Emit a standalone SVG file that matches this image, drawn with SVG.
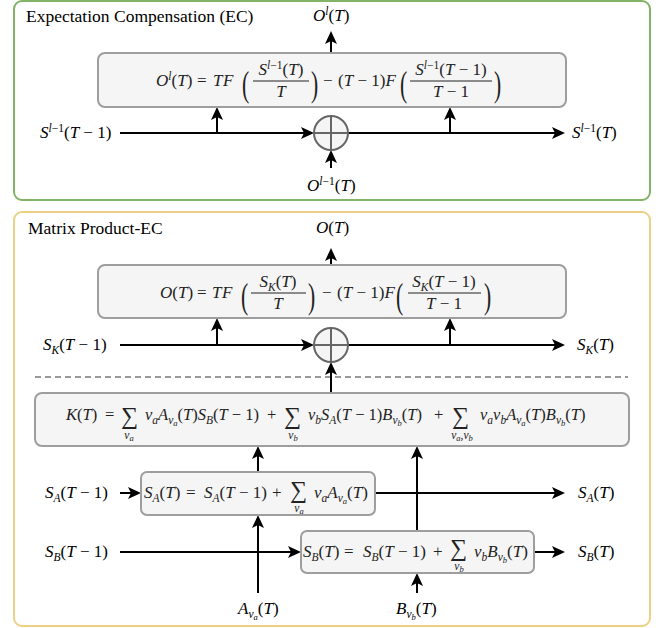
<svg xmlns="http://www.w3.org/2000/svg" width="670" height="628" viewBox="0 0 670 628">
<style>
.t{font-family:"Liberation Serif","Times New Roman",serif;font-size:17px;fill:#000}
.k{font-size:16.5px}
.bx{fill:#222}
.i{font-style:italic}
.s{font-size:11.5px}
.ss{font-size:8.5px}
.sum{font-size:24px}
.par{font-size:36px}
.box{fill:#f5f5f5;stroke:#9e9e9e;stroke-width:2}
.bar{stroke:#222;stroke-width:1}
.c{fill:none;stroke:#000;stroke-width:2;marker-end:url(#ah)}
.title{font-family:"Liberation Serif","Times New Roman",serif;font-size:17.5px;fill:#000}
</style>
<defs>
<marker id="ah" viewBox="0 0 13 12" refX="3" refY="6" markerWidth="13" markerHeight="12" markerUnits="userSpaceOnUse" orient="auto"><path d="M0,0 L13,6 L0,12 L3,6 Z" fill="#000"/></marker>
</defs>
<rect width="670" height="628" fill="#fff"/>

<g id="panel-ec">
<rect x="14" y="1" width="636" height="199" rx="8" fill="none" stroke="#82b366" stroke-width="2"/>
<text class="title" x="26" y="22">Expectation Compensation (EC)</text>
</g>
<g id="panel-mpec">
<rect x="14" y="212" width="636" height="414" rx="8" fill="none" stroke="#ecd184" stroke-width="2"/>
<text class="title" x="28" y="234">Matrix Product-EC</text>
<line x1="35" y1="377" x2="628" y2="377" stroke="#999" stroke-width="2" stroke-dasharray="6 4"/>
</g>

<g id="connectors">
<path class="c" d="M120,133 H304"/>
<path class="c" d="M348,133 H555"/>
<path class="c" d="M217,133 V117"/>
<path class="c" d="M450,133 V117"/>
<path class="c" d="M331,168 V160"/>
<path class="c" d="M331,53 V41"/>
<path class="c" d="M120,345 H304"/>
<path class="c" d="M348,345 H555"/>
<path class="c" d="M217,345 V328"/>
<path class="c" d="M450,345 V328"/>
<path class="c" d="M331,393 V372"/>
<path class="c" d="M331,265 V258"/>
<path class="c" d="M120,493 H131"/>
<path class="c" d="M375,493 H555"/>
<path class="c" d="M120,552 H291"/>
<path class="c" d="M534,552 H555"/>
<path class="c" d="M258,593 V525"/>
<path class="c" d="M258,472 V456"/>
<path class="c" d="M417,593 V583"/>
<path class="c" d="M417,531 V456"/>
</g>

<g id="ec-formula">
<rect class="box" x="98" y="53" width="468" height="54" rx="7"/>
<text class="t bx" x="156" y="86"><tspan class="i">O</tspan><tspan class="s i" dy="-6">l</tspan><tspan dy="6">(</tspan><tspan class="i">T</tspan>)</text>
<text class="t bx" x="197" y="86">=</text>
<text class="t bx i" y="86"><tspan x="213">T</tspan><tspan x="223">F</tspan></text>
<text class="t bx par" transform="translate(242,96) scale(0.6,1)">(</text>
<text class="t bx" x="281" y="75" text-anchor="middle"><tspan class="i">S</tspan><tspan class="s" dy="-6"><tspan class="i">l</tspan>−1</tspan><tspan dy="6">(</tspan><tspan class="i">T</tspan>)</text>
<line class="bar" x1="253" y1="81" x2="309" y2="81"/>
<text class="t bx i" x="281" y="97" text-anchor="middle">T</text>
<text class="t bx par" transform="translate(311,96) scale(0.6,1)">)</text>
<text class="t bx" x="323" y="86">−</text>
<text class="t bx" x="338" y="86">(<tspan class="i">T</tspan> − 1)<tspan class="i">F</tspan></text>
<text class="t bx par" transform="translate(400,96) scale(0.6,1)">(</text>
<text class="t bx" x="451" y="75" text-anchor="middle"><tspan class="i">S</tspan><tspan class="s" dy="-6"><tspan class="i">l</tspan>−1</tspan><tspan dy="6">(</tspan><tspan class="i">T</tspan> − 1)</text>
<line class="bar" x1="410" y1="81" x2="492" y2="81"/>
<text class="t bx" x="451" y="97" text-anchor="middle"><tspan class="i">T</tspan> − 1</text>
<text class="t bx par" transform="translate(494,96) scale(0.6,1)">)</text>
</g>

<g id="ec-adder">
<circle cx="331" cy="133" r="17" fill="#f5f5f5" stroke="#666" stroke-width="2"/>
<path d="M314,133 H348 M331,116 V150" stroke="#666" stroke-width="2"/>
</g>

<g id="ec-in-s">
<text class="t" x="40" y="138"><tspan class="i">S</tspan><tspan class="s" dy="-6"><tspan class="i">l</tspan>−1</tspan><tspan dy="6">(</tspan><tspan class="i">T</tspan> − 1)</text>
</g>
<g id="ec-out-s">
<text class="t" x="572" y="138"><tspan class="i">S</tspan><tspan class="s" dy="-6"><tspan class="i">l</tspan>−1</tspan><tspan dy="6">(</tspan><tspan class="i">T</tspan>)</text>
</g>
<g id="ec-out-o">
<text class="t" x="313" y="21"><tspan class="i">O</tspan><tspan class="s i" dy="-6">l</tspan><tspan dy="6">(</tspan><tspan class="i">T</tspan>)</text>
</g>
<g id="ec-in-o">
<text class="t" x="307" y="191"><tspan class="i">O</tspan><tspan class="s" dy="-6"><tspan class="i">l</tspan>−1</tspan><tspan dy="6">(</tspan><tspan class="i">T</tspan>)</text>
</g>

<g id="mp-formula">
<rect class="box" x="98" y="265" width="468" height="53" rx="7"/>
<text class="t bx" x="160" y="298"><tspan class="i">O</tspan>(<tspan class="i">T</tspan>)</text>
<text class="t bx" x="197" y="298">=</text>
<text class="t bx i" y="298"><tspan x="212">T</tspan><tspan x="222">F</tspan></text>
<text class="t bx par" transform="translate(241,308) scale(0.6,1)">(</text>
<text class="t bx" x="278" y="287" text-anchor="middle"><tspan class="i">S</tspan><tspan class="s i" dy="4">K</tspan><tspan dy="-4">(</tspan><tspan class="i">T</tspan>)</text>
<line class="bar" x1="251" y1="293" x2="306" y2="293"/>
<text class="t bx i" x="278" y="309" text-anchor="middle">T</text>
<text class="t bx par" transform="translate(308,308) scale(0.6,1)">)</text>
<text class="t bx" x="322" y="298">−</text>
<text class="t bx" x="337" y="298">(<tspan class="i">T</tspan> − 1)<tspan class="i">F</tspan></text>
<text class="t bx par" transform="translate(396,308) scale(0.6,1)">(</text>
<text class="t bx" x="444" y="287" text-anchor="middle"><tspan class="i">S</tspan><tspan class="s i" dy="4">K</tspan><tspan dy="-4">(</tspan><tspan class="i">T</tspan> − 1)</text>
<line class="bar" x1="408" y1="293" x2="481" y2="293"/>
<text class="t bx" x="444" y="309" text-anchor="middle"><tspan class="i">T</tspan> − 1</text>
<text class="t bx par" transform="translate(484,308) scale(0.6,1)">)</text>
</g>

<g id="mp-adder">
<circle cx="331" cy="345" r="17" fill="#f5f5f5" stroke="#666" stroke-width="2"/>
<path d="M314,345 H348 M331,328 V362" stroke="#666" stroke-width="2"/>
</g>

<g id="mp-in-sk">
<text class="t" x="43" y="350"><tspan class="i">S</tspan><tspan class="s i" dy="4">K</tspan><tspan dy="-4">(</tspan><tspan class="i">T</tspan> − 1)</text>
</g>
<g id="mp-out-sk">
<text class="t" x="577" y="350"><tspan class="i">S</tspan><tspan class="s i" dy="4">K</tspan><tspan dy="-4">(</tspan><tspan class="i">T</tspan>)</text>
</g>
<g id="mp-out-o">
<text class="t" x="316" y="233"><tspan class="i">O</tspan>(<tspan class="i">T</tspan>)</text>
</g>

<g id="k-formula">
<rect class="box" x="35" y="393" width="594" height="53" rx="7"/>
<text class="t k bx" x="66" y="420"><tspan class="i">K</tspan>(<tspan class="i">T</tspan>)</text>
<text class="t k bx" x="105" y="420">=</text>
<text class="t bx sum" x="121" y="424">∑</text>
<text class="t bx" x="129" y="439" text-anchor="middle"><tspan class="s i">v</tspan><tspan class="ss i" dy="2">a</tspan></text>
<text class="t k bx" x="145" y="420"><tspan class="i">v</tspan><tspan class="s i" dy="4">a</tspan><tspan class="i" dy="-4">A</tspan><tspan class="s i" dy="4">v</tspan><tspan class="ss i" dy="2">a</tspan><tspan dy="-6">(</tspan><tspan class="i">T</tspan>)<tspan class="i">S</tspan><tspan class="s i" dy="4">B</tspan><tspan dy="-4">(</tspan><tspan class="i">T</tspan> − 1)</text>
<text class="t k bx" x="267" y="420">+</text>
<text class="t bx sum" x="284" y="424">∑</text>
<text class="t bx" x="293" y="439" text-anchor="middle"><tspan class="s i">v</tspan><tspan class="ss i" dy="2">b</tspan></text>
<text class="t k bx" x="308" y="420"><tspan class="i">v</tspan><tspan class="s i" dy="4">b</tspan><tspan class="i" dy="-4">S</tspan><tspan class="s i" dy="4">A</tspan><tspan dy="-4">(</tspan><tspan class="i">T</tspan> − 1)<tspan class="i">B</tspan><tspan class="s i" dy="4">v</tspan><tspan class="ss i" dy="2">b</tspan><tspan dy="-6">(</tspan><tspan class="i">T</tspan>)</text>
<text class="t k bx" x="434" y="420">+</text>
<text class="t bx sum" x="452" y="424">∑</text>
<text class="t bx" x="462" y="439" text-anchor="middle"><tspan class="s i">v</tspan><tspan class="ss i" dy="2">a</tspan><tspan class="s" dy="-2">,</tspan><tspan class="s i">v</tspan><tspan class="ss i" dy="2">b</tspan></text>
<text class="t k bx" x="480" y="420"><tspan class="i">v</tspan><tspan class="s i" dy="4">a</tspan><tspan class="i" dy="-4">v</tspan><tspan class="s i" dy="4">b</tspan><tspan class="i" dy="-4">A</tspan><tspan class="s i" dy="4">v</tspan><tspan class="ss i" dy="2">a</tspan><tspan dy="-6">(</tspan><tspan class="i">T</tspan>)<tspan class="i">B</tspan><tspan class="s i" dy="4">v</tspan><tspan class="ss i" dy="2">b</tspan><tspan dy="-6">(</tspan><tspan class="i">T</tspan>)</text>
</g>

<g id="sa-formula">
<rect class="box" x="141" y="472" width="234" height="43" rx="6"/>
<text class="t bx" x="144" y="498"><tspan class="i">S</tspan><tspan class="s i" dy="4">A</tspan><tspan dy="-4">(</tspan><tspan class="i">T</tspan>)</text>
<text class="t bx" x="186" y="498">=</text>
<text class="t bx" x="204" y="498"><tspan class="i">S</tspan><tspan class="s i" dy="4">A</tspan><tspan dy="-4">(</tspan><tspan class="i">T</tspan> − 1)</text>
<text class="t bx" x="272" y="498">+</text>
<text class="t bx sum" x="290" y="498">∑</text>
<text class="t bx" x="299" y="512" text-anchor="middle"><tspan class="s i">v</tspan><tspan class="ss i" dy="2">a</tspan></text>
<text class="t bx" x="314" y="498"><tspan class="i">v</tspan><tspan class="s i" dy="4">a</tspan><tspan class="i" dy="-4">A</tspan><tspan class="s i" dy="4">v</tspan><tspan class="ss i" dy="2">a</tspan><tspan dy="-6">(</tspan><tspan class="i">T</tspan>)</text>
</g>

<g id="sb-formula">
<rect class="box" x="301" y="531" width="233" height="42" rx="6"/>
<text class="t bx" x="303" y="557"><tspan class="i">S</tspan><tspan class="s i" dy="4">B</tspan><tspan dy="-4">(</tspan><tspan class="i">T</tspan>)</text>
<text class="t bx" x="344" y="557">=</text>
<text class="t bx" x="363" y="557"><tspan class="i">S</tspan><tspan class="s i" dy="4">B</tspan><tspan dy="-4">(</tspan><tspan class="i">T</tspan> − 1)</text>
<text class="t bx" x="433" y="557">+</text>
<text class="t bx sum" x="450" y="556">∑</text>
<text class="t bx" x="459" y="570" text-anchor="middle"><tspan class="s i">v</tspan><tspan class="ss i" dy="2">b</tspan></text>
<text class="t bx" x="474" y="557"><tspan class="i">v</tspan><tspan class="s i" dy="4">b</tspan><tspan class="i" dy="-4">B</tspan><tspan class="s i" dy="4">v</tspan><tspan class="ss i" dy="2">b</tspan><tspan dy="-6">(</tspan><tspan class="i">T</tspan>)</text>
</g>

<g id="in-sa"><text class="t" x="45" y="498"><tspan class="i">S</tspan><tspan class="s i" dy="4">A</tspan><tspan dy="-4">(</tspan><tspan class="i">T</tspan> − 1)</text></g>
<g id="out-sa"><text class="t" x="578" y="498"><tspan class="i">S</tspan><tspan class="s i" dy="4">A</tspan><tspan dy="-4">(</tspan><tspan class="i">T</tspan>)</text></g>
<g id="in-sb"><text class="t" x="45" y="557"><tspan class="i">S</tspan><tspan class="s i" dy="4">B</tspan><tspan dy="-4">(</tspan><tspan class="i">T</tspan> − 1)</text></g>
<g id="out-sb"><text class="t" x="578" y="557"><tspan class="i">S</tspan><tspan class="s i" dy="4">B</tspan><tspan dy="-4">(</tspan><tspan class="i">T</tspan>)</text></g>
<g id="in-a"><text class="t" x="238" y="614"><tspan class="i">A</tspan><tspan class="s i" dy="4">v</tspan><tspan class="ss i" dy="2">a</tspan><tspan dy="-6">(</tspan><tspan class="i">T</tspan>)</text></g>
<g id="in-b"><text class="t" x="396" y="614"><tspan class="i">B</tspan><tspan class="s i" dy="4">v</tspan><tspan class="ss i" dy="2">b</tspan><tspan dy="-6">(</tspan><tspan class="i">T</tspan>)</text></g>
</svg>
